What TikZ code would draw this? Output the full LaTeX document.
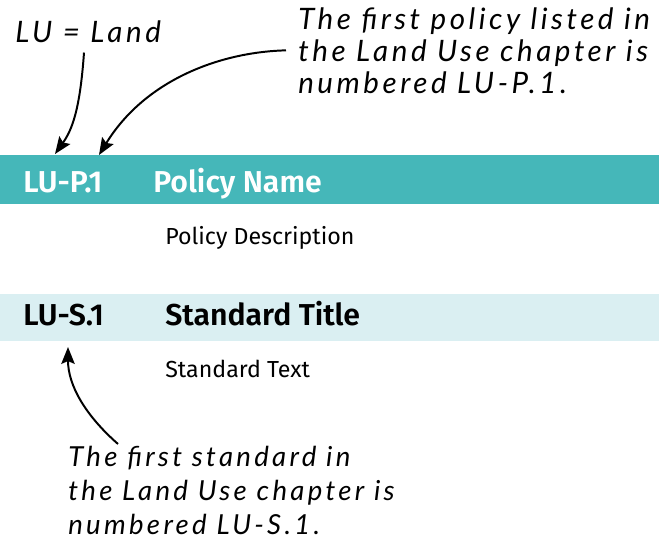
\documentclass[tikz,border=0pt]{standalone}
\usepackage{fontspec}
\setmainfont{Fira Sans}[BoldFont={Fira Sans SemiBold}]
\newfontfamily\handfont{Lato}[LetterSpace=12]
\usepackage{xcolor}
\usetikzlibrary{arrows.meta, positioning, calc}
\definecolor{PolicyTeal}{HTML}{45B7B9}
\definecolor{StandardMist}{HTML}{DAEFF2}
\tikzset{
    idlabel/.style={anchor=base west, inner sep=0pt,
                    font=\fontsize{21.5}{24}\selectfont\bfseries},
    bodytext/.style={anchor=base west, inner sep=0pt,
                     font=\fontsize{16.5}{19}\selectfont},
    handnote/.style={inner sep=0pt, align=left,
                     font=\handfont\itshape\fontsize{21}{22.8}\selectfont},
    callout/.style={-{Stealth[length=12pt, width=9.5pt, inset=2pt]},
                    line width=1.4pt, black},
}

\begin{document}
\begin{tikzpicture}[x=0.025cm, y=-0.025cm]
    \useasboundingbox (0,0) rectangle (659,541);

    % Bands
    \fill[PolicyTeal] (0,155) rectangle (659,204);
    \fill[StandardMist] (0,294) rectangle (659,341);

    % Policy row
    \node[idlabel, text=white] (polid) at (23,192) {LU-P.1};
    \node[idlabel, text=white] (polname) at (153,192) {Policy Name};
    \node[bodytext] (poldesc) at (165,244) {Policy Description};

    % Standard row
    \node[idlabel] (stdid) at (23,325) {LU-S.1};
    \node[idlabel] (stdname) at (165,325) {Standard Title};
    \node[bodytext] (stdtext) at (165,377) {Standard Text};

    % Notes
    \node[handnote, anchor=base west] (landnote) at (15,42) {LU = Land};
    \node[handnote, anchor=north west] (polnote) at (298,7)
        {The first policy listed in\\the Land Use chapter is\\numbered LU-P.1.};
    \node[handnote, anchor=north west,
          font=\handfont\itshape\fontsize{19.6}{24.2}\selectfont] (stdnote) at (68,446)
        {The first standard in\\the Land Use chapter is\\numbered LU-S.1.};

    % Arrow tips
    \coordinate (poltipA) at (55,154);
    \coordinate (poltipB) at (99,155);
    \coordinate (stdtip) at (68,347);

    % Arrows
    \draw[callout] ($(landnote.south west)+(69,10)$) .. controls (80,110) and (72,130) .. (poltipA);
    \draw[callout] ($(polnote.west)+(-12,0)$) .. controls (220,52) and (145,80) .. (poltipB);
    \draw[callout] ($(stdnote.north west)+(50,-2)$) .. controls (85,415) and (68,385) .. (stdtip);
\end{tikzpicture}
\end{document}
